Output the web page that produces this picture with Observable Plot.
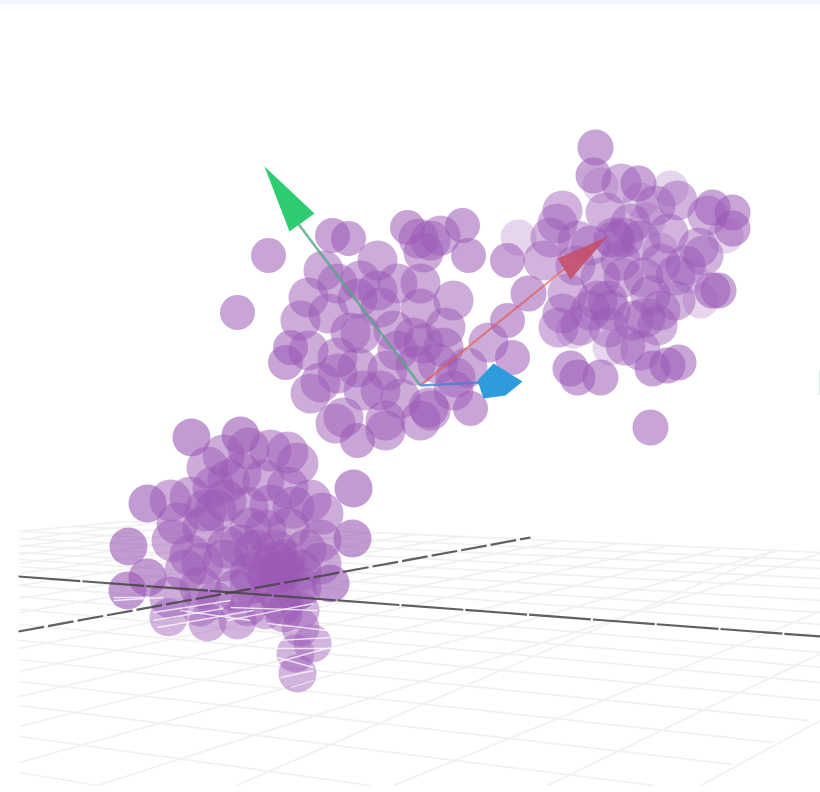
<!DOCTYPE html>
<html><head><meta charset="utf-8">
<style>html,body{margin:0;padding:0;background:#fff;overflow:hidden}svg{display:block;filter:blur(0.7px)}</style>
<script src="https://cdn.jsdelivr.net/npm/d3@7"></script>
<script src="https://cdn.jsdelivr.net/npm/@observablehq/plot@0.6"></script>
</head><body><div id="chart"></div>
<script>
// projected positions
const loneA=[[191,437],[240,435],[147,503],[128,546],[353,488],[352,538],[127,590],[147,577],[330,583]];
const clusterA=[[223,455],[207,467],[248,448],[270,450],[287,452],[297,463],[170,500],[190,497],[213,487],[240,473],[263,480],[287,487],[310,500],[322,513],[177,523],[203,527],[247,507],[293,507],[250,528],[288,528],[320,540],[172,540],[202,563],[223,560],[282,567],[250,573],[320,563],[170,597],[250,583],[273,587],[300,587],[200,587],[227,547],[268,575],[285,560],[278,572],[262,565],[282,603],[228,480],[215,510],[270,505],[190,555],[305,550],[240,545],[225,500],[265,530],[205,510],[185,570],[235,590],[300,570],[275,550],[255,550],[295,590],[283,570],[275,562]];
const clusterAbelow=[[168,617],[207,622],[237,620],[200,607],[247,607],[283,613],[300,627],[312,643],[295,653],[297,673],[215,600],[265,610],[300,610]];
const loneB=[[268,255],[237,312],[332,235],[348,238],[407,227],[462,225],[468,255],[507,260],[507,320],[512,357],[285,362],[290,347],[357,440],[470,408]];
const clusterB=[[418,238],[440,235],[430,240],[423,252],[377,260],[323,270],[360,280],[397,283],[420,283],[453,300],[308,297],[337,283],[357,298],[300,320],[328,313],[380,307],[420,308],[445,327],[350,332],[360,333],[308,350],[337,357],[423,343],[413,337],[387,370],[488,342],[337,373],[320,382],[310,393],[363,390],[400,398],[430,410],[428,407],[455,377],[453,390],[335,423],[343,417],[385,430],[385,420],[420,420],[443,347],[467,367],[397,350],[357,367],[393,330],[377,290],[437,363],[415,365],[380,390]];
const loneC=[[595,147],[593,175],[638,183],[732,212],[732,228],[712,207],[528,293],[570,368],[577,377],[600,377],[652,368],[667,365],[678,362],[650,427],[718,290],[712,290]];
const clusterC=[[621,183],[677,200],[707,215],[562,210],[557,223],[550,237],[605,212],[543,260],[577,240],[613,237],[623,237],[668,233],[698,247],[703,255],[660,263],[643,277],[623,277],[600,277],[597,300],[562,313],[558,327],[608,327],[645,317],[675,300],[657,325],[640,350],[567,293],[630,223],[607,300],[660,310],[633,320],[590,310],[615,240],[590,245],[655,205],[640,240],[675,275],[575,265],[580,325],[625,345],[650,295],[685,265],[620,260],[610,310]];
const clusterCfaint=[[518,237],[670,188],[647,220],[573,330],[610,347],[660,250],[690,275],[600,185],[725,235],[640,200],[700,300]];

const gridA=[[19,772,97,785],[19,736,370,785],[19,705,653,785],[19,681,733,764],[19,659,773,742],[19,640,807,720],[19,624,820,700],[19,609,820,682],[19,596,820,667],[19,585,820,652],[19,566,820,624],[19,559,820,612],[19,552,820,600],[19,545,820,588],[19,538,820,578],[19,531,820,568],[72,526,820,560],[125,521,820,552]];
const gridB=[[97,785,820,553],[236,785,776,550],[393,785,820,611],[547,785,820,653],[700,785,820,720],[19,762,776,550],[19,726,721,548],[19,696,669,545],[19,671,618,543],[19,648,562,540],[19,612,461,536],[19,598,415,534],[19,585,369,532],[19,573,321,530],[19,563,278,528],[19,554,235,526],[19,546,196,524],[19,539,158,522],[19,531,125,521]];
const floorStreaks=[[113,597,143,597],[113,600,163,597],[153,612,230,600],[153,620,223,608],[157,627,253,610],[180,610,250,620],[230,607,317,610],[227,620,313,603],[267,623,327,630],[277,640,330,637],[275,648,330,648],[275,662,330,647],[277,657,313,667],[280,677,313,670],[290,687,313,680]];
const axisA=[[18,576,820,636]];
const axisB=[[18,631,530,537]];

const shaftGreen=[[420,385,296,221]];
const shaftRed=[[420,385,572,262]];
const shaftBlue=[[420,385,480,382]];
const coneGreen=[[264,166],[314,213],[289,231]];
const coneRed=[[607,236],[557,258],[570,279]];
const coneBlue=[[493,363],[522,381],[505,395],[483,398],[477,380]];
const topBand=[[0,820,0,4.5]];
const edgeSliver=[[819.5,370,395]];

const link=(d,o)=>Plot.link(d,{x1:a=>a[0],y1:a=>a[1],x2:a=>a[2],y2:a=>a[3],...o});
const PURPLE="#9b59b6";
const poly=(d,fill,o={})=>Plot.line(d,{x:a=>a[0],y:a=>a[1],curve:"linear-closed",fill,stroke:"none",...o});

const chart=Plot.plot({
  width:820,height:792,margin:0,
  style:{background:"#fff"},
  x:{domain:[0,820],axis:null},
  y:{domain:[792,0],axis:null},
  marks:[
    Plot.rect(topBand,{x1:a=>a[0],x2:a=>a[1],y1:a=>a[2],y2:a=>a[3],fill:"#f2f6fa"}),
    Plot.ruleX(edgeSliver,{x:a=>a[0],y1:a=>a[1],y2:a=>a[2],stroke:"#a9dcc8",strokeWidth:1}),
    link(gridA,{stroke:"#f0f0f0",strokeWidth:1.7}),
    link(gridB,{stroke:"#f0f0f0",strokeWidth:1.7}),
    Plot.dot(clusterCfaint,{r:18,fill:PURPLE,fillOpacity:0.25}),
    Plot.dot(loneC,{r:18,fill:PURPLE,fillOpacity:0.55}),
    Plot.dot(clusterC,{r:20,fill:PURPLE,fillOpacity:0.46}),
    Plot.dot(loneB,{r:17.5,fill:PURPLE,fillOpacity:0.55}),
    Plot.dot(clusterB,{r:20,fill:PURPLE,fillOpacity:0.5}),
    Plot.dot(loneA,{r:19,fill:PURPLE,fillOpacity:0.6}),
    Plot.dot(clusterA,{r:21,fill:PURPLE,fillOpacity:0.5}),
    Plot.dot(clusterAbelow,{r:19,fill:PURPLE,fillOpacity:0.45}),
    link(floorStreaks,{stroke:"#fff",strokeWidth:1.3,strokeOpacity:0.75}),
    link(axisA,{stroke:"#444",strokeWidth:2.2,strokeDasharray:"62 2",strokeOpacity:0.85}),
    link(axisB,{stroke:"#444",strokeWidth:2.2,strokeDasharray:"26 4",strokeOpacity:0.85}),
    link(shaftRed,{stroke:"#e2574c",strokeWidth:2.2,strokeOpacity:0.65}),
    link(shaftGreen,{stroke:"#55a58a",strokeWidth:2.6,strokeOpacity:0.8}),
    link(shaftBlue,{stroke:"#4a7fd4",strokeWidth:2.6,strokeOpacity:0.8}),
    poly(coneRed,"#c44f6c",{fillOpacity:0.9}),
    poly(coneGreen,"#2ecc71"),
    poly(coneBlue,"#2e9bdc")
  ]
});
document.getElementById("chart").append(chart);
</script></body></html>
